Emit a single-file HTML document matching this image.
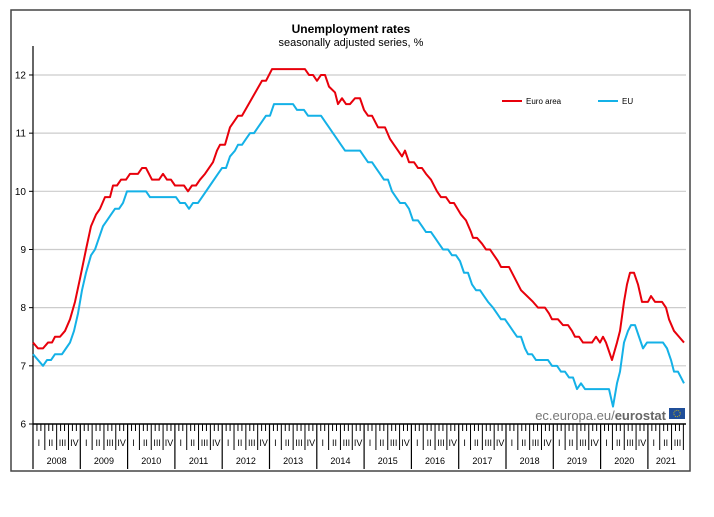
<!DOCTYPE html>
<html><head><meta charset="utf-8"><style>
html,body{margin:0;padding:0;background:#fff;width:714px;height:517px;overflow:hidden}
svg{display:block;font-family:"Liberation Sans",sans-serif}
</style></head><body>
<svg id="s" width="714" height="517" viewBox="0 0 714 517" xmlns="http://www.w3.org/2000/svg">
<rect x="11" y="10" width="679" height="461" fill="none" stroke="#444" stroke-width="1.5"/>
<text x="351" y="33" text-anchor="middle" font-size="12" font-weight="bold">Unemployment rates</text>
<text x="351" y="46" text-anchor="middle" font-size="11">seasonally adjusted series, %</text>
<g id="grid" stroke="#ccc" stroke-width="1.2"></g>
<g id="ylab" font-size="10" text-anchor="end" fill="#000"></g>
<line x1="33" y1="46" x2="33" y2="424" stroke="#000" stroke-width="1.2"/>
<line x1="33" y1="424" x2="686" y2="424" stroke="#000" stroke-width="1.5"/>
<g id="ticks" stroke="#000" stroke-width="1"></g>
<g id="xlab" font-size="9" text-anchor="middle" fill="#000"></g>
<g transform="matrix(1 0 0 -58.17 0 773.02)" fill="none" stroke-linejoin="round">
<polyline vector-effect="non-scaling-stroke" stroke="#e8000b" stroke-width="2" points="33,7.4 38,7.3 43,7.3 48,7.4 52,7.4 55,7.5 60,7.5 65,7.6 70,7.8 75,8.1 80,8.5 86,9.0 91,9.4 96,9.6 100,9.7 105,9.9 110,9.9 113,10.1 117,10.1 121,10.2 126,10.2 130,10.3 138,10.3 142,10.4 146,10.4 152,10.2 159,10.2 163,10.3 167,10.2 171,10.2 175,10.1 184,10.1 188,10.0 192,10.1 196,10.1 200,10.2 205,10.3 213,10.5 217,10.7 220,10.8 225,10.8 230,11.1 234,11.2 238,11.3 242,11.3 252,11.6 262,11.9 266,11.9 272,12.1 305,12.1 309,12.0 313,12.0 317,11.9 321,12.0 325,12.0 329,11.8 335,11.7 338,11.5 342,11.6 346,11.5 350,11.5 355,11.6 360,11.6 364,11.4 368,11.3 372,11.3 378,11.1 385,11.1 390,10.9 394,10.8 398,10.7 402,10.6 405,10.7 409,10.5 414,10.5 418,10.4 422,10.4 426,10.3 431,10.2 437,10.0 441,9.9 446,9.9 450,9.8 454,9.8 461,9.6 466,9.5 471,9.3 473,9.2 477,9.2 482,9.1 486,9.0 490,9.0 494,8.9 498,8.8 501,8.7 509,8.7 515,8.5 521,8.3 527,8.2 533,8.1 538,8.0 545,8.0 549,7.9 552,7.8 558,7.8 563,7.7 568,7.7 572,7.6 575,7.5 579,7.5 583,7.4 592,7.4 596,7.5 600,7.4 603,7.5 606,7.4 608,7.3 612,7.1 617,7.4 620,7.6 624,8.1 627,8.4 630,8.6 634,8.6 638,8.4 642,8.1 648,8.1 651,8.2 655,8.1 662,8.1 666,8.0 669,7.8 674,7.6 679,7.5 684,7.4"/>
<polyline vector-effect="non-scaling-stroke" stroke="#14b1e7" stroke-width="2" points="33,7.2 38,7.1 43,7.0 47,7.1 51,7.1 55,7.2 62,7.2 66,7.3 70,7.4 74,7.6 78,7.9 82,8.3 86,8.6 91,8.9 95,9.0 99,9.2 103,9.4 107,9.5 111,9.6 115,9.7 119,9.7 123,9.8 127,10.0 146,10.0 150,9.9 176,9.9 180,9.8 185,9.8 189,9.7 193,9.8 198,9.8 202,9.9 210,10.1 218,10.3 222,10.4 226,10.4 230,10.6 235,10.7 238,10.8 242,10.8 246,10.9 250,11.0 254,11.0 258,11.1 262,11.2 266,11.3 270,11.3 274,11.5 293,11.5 297,11.4 304,11.4 308,11.3 321,11.3 325,11.2 329,11.1 333,11.0 337,10.9 341,10.8 345,10.7 360,10.7 364,10.6 368,10.5 372,10.5 376,10.4 380,10.3 384,10.2 388,10.2 392,10.0 396,9.9 400,9.8 405,9.8 409,9.7 413,9.5 418,9.5 422,9.4 426,9.3 431,9.3 435,9.2 439,9.1 443,9.0 448,9.0 452,8.9 456,8.9 460,8.8 464,8.6 468,8.6 472,8.4 476,8.3 480,8.3 484,8.2 488,8.1 493,8.0 497,7.9 501,7.8 505,7.8 509,7.7 513,7.6 517,7.5 521,7.5 525,7.3 528,7.2 532,7.2 536,7.1 548,7.1 552,7.0 557,7.0 561,6.9 565,6.9 569,6.8 573,6.8 577,6.6 581,6.7 585,6.6 609,6.6 613,6.3 617,6.7 620,6.9 624,7.4 628,7.6 631,7.7 635,7.7 639,7.5 643,7.3 647,7.4 663,7.4 667,7.3 671,7.1 674,6.9 678,6.9 681,6.8 684,6.7"/>
</g>
<line x1="502" y1="101" x2="522" y2="101" stroke="#e8000b" stroke-width="2"/>
<text x="526" y="104" font-size="8">Euro area</text>
<line x1="598" y1="101" x2="618" y2="101" stroke="#14b1e7" stroke-width="2"/>
<text x="622" y="104" font-size="8">EU</text>
<text x="666" y="420" text-anchor="end" font-size="13" fill="#777">ec.europa.eu/<tspan font-weight="bold" fill="#666">eurostat</tspan></text>
<rect x="669" y="408" width="16" height="11" fill="#1f4e99"/>
<circle cx="677" cy="413.5" r="3.2" fill="none" stroke="#e8c800" stroke-width="0.8" stroke-dasharray="1 1"/>
</svg>
<script>
var ns="http://www.w3.org/2000/svg";
function el(p,t,a,txt){var e=document.createElementNS(ns,t);for(var k in a)e.setAttribute(k,a[k]);if(txt!=null)e.textContent=txt;document.getElementById(p).appendChild(e);}
for(var v=7;v<=12;v++){var y=424-(v-6)*58.17;el("grid","line",{x1:33,x2:686,y1:y,y2:y});}
for(var v=6;v<=12;v++){var y=424-(v-6)*58.17;el("ylab","text",{x:26,y:y+3.5},v);el("ticks","line",{x1:29,x2:33,y1:y,y2:y});}
var mw=47.3/12,q=["I","II","III","IV"];
for(var m=0;m<=165;m++){var x=33+m*mw;
 if(m%12==0){el("ticks","line",{x1:x,x2:x,y1:424,y2:469,"stroke-width":1.2});}
 else if(m%3==0){el("ticks","line",{x1:x,x2:x,y1:424,y2:450});}
 else el("ticks","line",{x1:x,x2:x,y1:424,y2:431});
}
for(var k=0;k<55;k++){var x=33+(k*3+1.5)*mw;el("xlab","text",{x:x,y:446},q[k%4]);}
for(var yr=0;yr<14;yr++){var x=33+(yr+0.5)*47.3;if(yr==13)x=33+13*47.3+18;el("xlab","text",{x:x,y:464},2008+yr);}
</script>
</body></html>
